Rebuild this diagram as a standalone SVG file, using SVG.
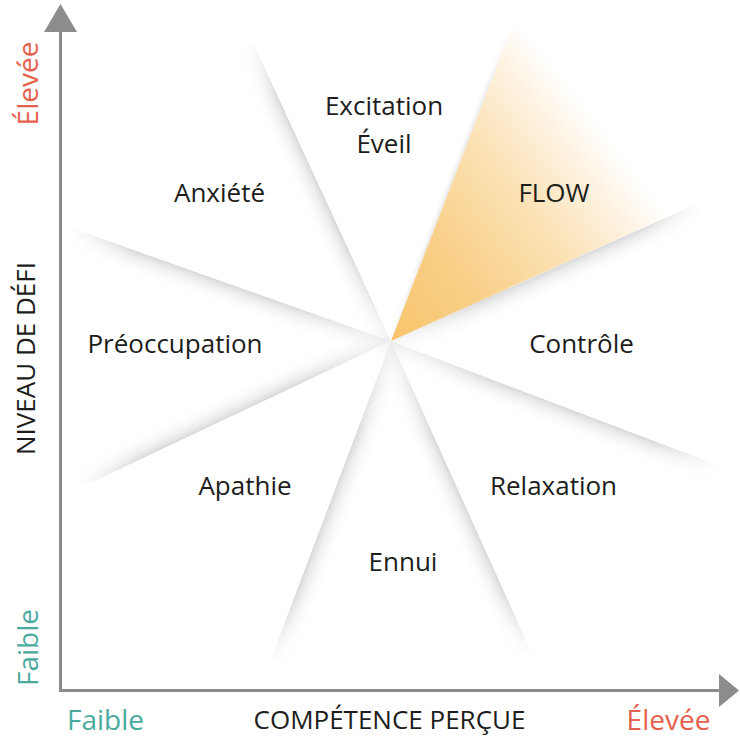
<svg xmlns="http://www.w3.org/2000/svg" width="740" height="738" viewBox="0 0 740 738">
<style>
.lbl{font-family:"Open Sans","Liberation Sans",sans-serif;font-size:26px;fill:#1d1d1b;text-anchor:middle}
.ax{font-family:"Open Sans","Liberation Sans",sans-serif;font-size:26px;fill:#1d1d1b;text-anchor:middle}
.lo{font-family:"Open Sans","Liberation Sans",sans-serif;font-size:28px;fill:#4aaaa0;text-anchor:middle}
.hi{font-family:"Open Sans","Liberation Sans",sans-serif;font-size:28px;fill:#e5604d;text-anchor:middle}
.axis{stroke:#8c8c8c;stroke-width:3;fill:none}
.head{fill:#8c8c8c}
.sh{fill:url(#sh)}
</style>
<defs>
<linearGradient id="sh" x1="0" y1="0" x2="0" y2="1">
<stop offset="0" stop-color="#b8b8b8" stop-opacity="0.55"/>
<stop offset="0.3" stop-color="#c8c8c8" stop-opacity="0.3"/>
<stop offset="1" stop-color="#ffffff" stop-opacity="0"/>
</linearGradient>
<linearGradient id="along" x1="0" y1="0" x2="1" y2="0">
<stop offset="0" stop-color="#fff" stop-opacity="0.2"/>
<stop offset="0.3" stop-color="#fff" stop-opacity="1"/>
<stop offset="0.8" stop-color="#fff" stop-opacity="1"/>
<stop offset="1" stop-color="#fff" stop-opacity="0"/>
</linearGradient>
<mask id="mk" maskUnits="userSpaceOnUse" x="-5" y="-5" width="350" height="40">
<rect x="0" y="0" width="340" height="30" fill="url(#along)"/>
</mask>
<linearGradient id="flow" gradientUnits="userSpaceOnUse" x1="391" y1="341" x2="655" y2="143">
<stop offset="0" stop-color="#f7c46a"/>
<stop offset="0.3" stop-color="#f9d08a"/>
<stop offset="0.55" stop-color="#fbe0b0"/>
<stop offset="0.75" stop-color="#fdf0dc"/>
<stop offset="0.9" stop-color="#ffffff"/>
</linearGradient>
</defs>
<rect width="740" height="738" fill="#ffffff"/>
<g id="flow-wedge">
<polygon points="391,341 512,28 700,202" fill="url(#flow)"/>
</g>
<g id="shadows">
<g transform="translate(391 341) rotate(-114.8) scale(0.975 -1)"><rect class="sh" width="340" height="24" mask="url(#mk)"/></g>
<g transform="translate(391 341) rotate(-68.9) scale(0.987 -1)"><rect class="sh" width="340" height="7" mask="url(#mk)" opacity="0.7"/></g>
<g transform="translate(391 341) rotate(-24.2) scale(0.996 1)"><rect class="sh" width="340" height="24" mask="url(#mk)"/></g>
<g transform="translate(391 341) rotate(20.8) scale(1.028 1)"><rect class="sh" width="340" height="24" mask="url(#mk)"/></g>
<g transform="translate(391 341) rotate(65.7) scale(1.013 1)"><rect class="sh" width="340" height="24" mask="url(#mk)"/></g>
<g transform="translate(391 341) rotate(110.7) scale(1.009 -1)"><rect class="sh" width="340" height="24" mask="url(#mk)"/></g>
<g transform="translate(391 341) rotate(154.7) scale(1.012 1)"><rect class="sh" width="340" height="24" mask="url(#mk)"/></g>
<g transform="translate(391 341) rotate(-160.5) scale(0.995 -1)"><rect class="sh" width="340" height="24" mask="url(#mk)"/></g>
</g>
<g id="connectors">
<line class="axis" x1="60.5" y1="28" x2="60.5" y2="690.5"/>
<line class="axis" x1="59" y1="690.5" x2="721" y2="690.5"/>
<polygon class="head" points="60.5,4 77,32 44,32"/>
<polygon class="head" points="739,690.5 719,674 719,707"/>
</g>
<g id="excitation"><text class="lbl" x="384" y="115">Excitation</text><text class="lbl" x="384" y="153">Éveil</text></g>
<g id="anxiete"><text class="lbl" x="219.5" y="202">Anxiété</text></g>
<g id="flow"><text class="lbl" x="554" y="202">FLOW</text></g>
<g id="preoccupation"><text class="lbl" x="175" y="353">Préoccupation</text></g>
<g id="controle"><text class="lbl" x="581.5" y="353">Contrôle</text></g>
<g id="apathie"><text class="lbl" x="245" y="495">Apathie</text></g>
<g id="relaxation"><text class="lbl" x="553.5" y="495">Relaxation</text></g>
<g id="ennui"><text class="lbl" x="403" y="571">Ennui</text></g>
<g id="axis-labels">
<text class="ax" transform="translate(35 358.5) rotate(-90)">NIVEAU DE DÉFI</text>
<text class="hi" transform="translate(38 83.5) rotate(-90)">Élevée</text>
<text class="lo" transform="translate(38 647.5) rotate(-90)">Faible</text>
<text class="lo" x="105.5" y="730">Faible</text>
<text class="ax" x="389.5" y="729">COMPÉTENCE PERÇUE</text>
<text class="hi" x="668.5" y="730">Élevée</text>
</g>
</svg>
